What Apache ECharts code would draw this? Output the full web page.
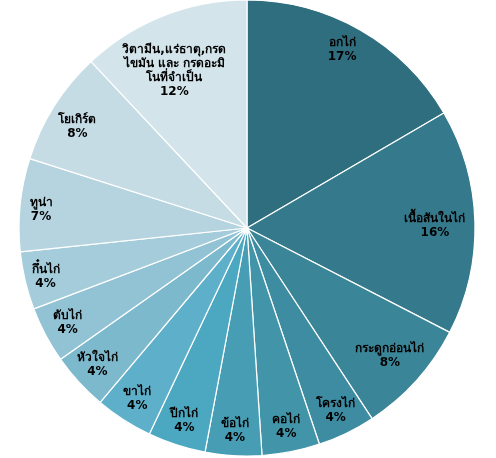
<!DOCTYPE html>
<html>
<head>
<meta charset="utf-8">
<script src="https://cdn.jsdelivr.net/npm/echarts@6/dist/echarts.min.js"></script>
<style>
html,body{margin:0;padding:0;background:#fff;}
#container{width:496px;height:458px;}
</style>
</head>
<body>
<div id="container"></div>
<script>
// ส่วนประกอบ (เรียงตามเข็มนาฬิกาจากด้านบน)
var categories = ['อกไก่','เนื้อสันในไก่','กระดูกอ่อนไก่','โครงไก่','คอไก่','ข้อไก่','ปีกไก่','ขาไก่','หัวใจไก่','ตับไก่','กึ๋นไก่','ทูน่า','โยเกิร์ต','วิตามีน,แร่ธาตุ,กรด\nไขมัน และ กรดอะมิ\nโนที่จำเป็น'];
var values = [16.6, 16.0, 8.2, 4.1, 4.1, 4.0, 4.1, 4.1, 4.1, 4.0, 4.1, 6.6, 8.1, 12.0];
var palette = ['#2f6e7f','#357a8c','#3a8598','#3e8ca1','#4294a9','#479db4','#4ca7c0','#5eb0ca','#7db9cd','#92c3d4','#a4ccda','#b6d4df','#c6dce5','#d3e4eb'];
// ขยับป้ายบางชิ้น [dx,dy]
var labelShift = {0:[-6,-2], 1:[-15,3], 2:[-8,-8], 10:[-4,2], 11:[-4,3], 12:[2,7], 13:[2,32]};

(function(){
	showPie();
})();

function showPie(){
	var pie_data = [];
	for(var i=0;i<categories.length;i++){
		pie_data.push({name:categories[i],value:values[i]});
	}
	var chart = echarts.init(document.getElementById('container'));
	var option = {
		animation:false,
		color: palette,
		series:[
			{
				// วงกลมที่มองเห็น
				type:'pie',
				center:[247,228],
				radius:[0,228],
				startAngle:90,
				clockwise:true,
				silent:true,
				label:{show:false},
				labelLine:{show:false},
				itemStyle:{borderColor:'#fff',borderWidth:1.2},
				data:pie_data
			},
			{
				// ชุดโปร่งใส ใช้วางป้ายชื่อใกล้ขอบ
				type:'pie',
				center:[247,228],
				radius:[0,400],
				startAngle:90,
				clockwise:true,
				silent:true,
				percentPrecision:0,
				itemStyle:{color:'transparent',borderWidth:0},
				labelLine:{show:false},
				label:{
					show:true,
					position:'inside',
					formatter:'{b}\n{d}%',
					color:'#000',
					fontSize:12,
					fontWeight:'bold',
					lineHeight:14,
					fontFamily:'"DejaVu Sans", Tahoma, sans-serif'
				},
				labelLayout:function(p){
					var s = labelShift[p.dataIndex];
					return s ? {dx:s[0],dy:s[1]} : {};
				},
				data:pie_data
			}
		]
	};
	chart.setOption(option);
}
</script>
</body>
</html>
